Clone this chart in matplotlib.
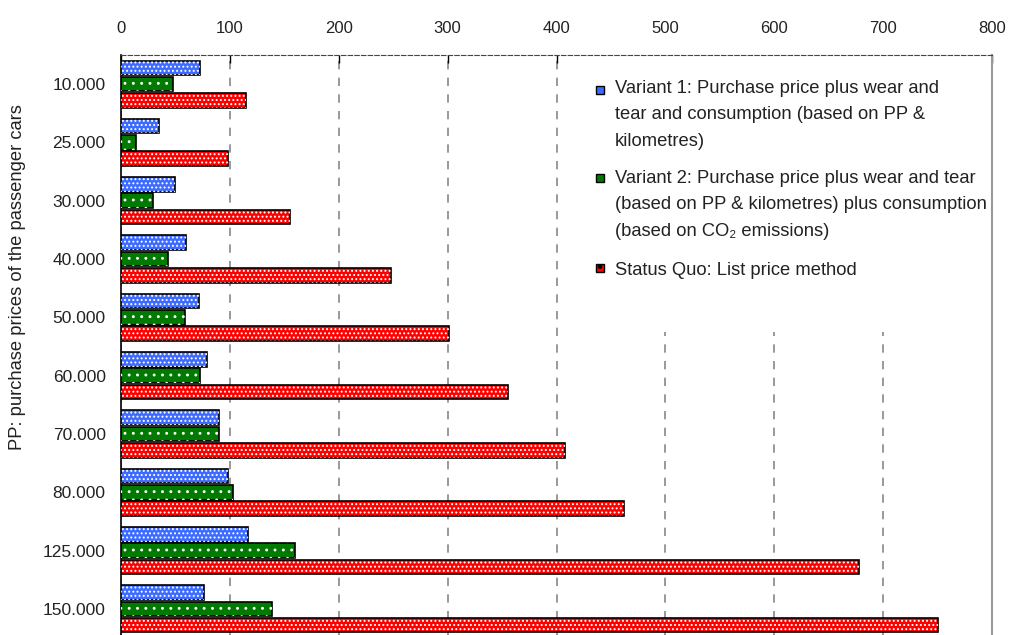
import matplotlib
matplotlib.use("Agg")
import matplotlib.pyplot as plt
import numpy as np
from matplotlib.patches import Rectangle

prices = ["10.000", "25.000", "30.000", "40.000", "50.000",
          "60.000", "70.000", "80.000", "125.000", "150.000"]
variant1 = [73, 35, 50, 60, 72, 79, 90, 98, 117, 76]
variant2 = [48, 14, 29, 43, 59, 73, 90, 103, 160, 139]
status_quo = [115, 98, 155, 248, 301, 355, 408, 462, 678, 750]

labels = ["Variant 1: Purchase price plus wear and\ntear and consumption (based on PP &\nkilometres)",
          "Variant 2: Purchase price plus wear and tear\n(based on PP & kilometres) plus consumption\n(based on CO\u2082 emissions)",
          "Status Quo: List price method"]
colors = ["#3d6bff", "#007a00", "#ff0000"]
hatches = ["....", "..", "...."]

plt.rcParams['font.family'] = ['Liberation Sans', 'DejaVu Sans']
plt.rcParams['hatch.linewidth'] = 0.9

fig = plt.figure(figsize=(10.16, 6.35), dpi=100)
ax = fig.add_axes([121/1016, -3/635, 871/1016, 583/635])

y = np.arange(len(prices))
step = 0.28
h = 0.25
series = [variant1, variant2, status_quo]
for i, vals in enumerate(series):
    pos = y + (i - 1) * step
    ax.barh(pos, vals, height=h, color=colors[i], edgecolor='black', linewidth=1.2, zorder=3)
    ax.barh(pos, vals, height=h, fill=False, edgecolor='white', hatch=hatches[i], linewidth=0, zorder=4)

ax.set_xlim(0, 800)
ax.set_ylim(len(prices) - 0.5, -0.5)
ax.set_xticks(np.arange(0, 801, 100))
ax.set_yticks(y)
ax.set_yticklabels(prices, fontsize=12.5, color='#222222')
ax.xaxis.tick_top()
ax.tick_params(axis='x', direction='in', length=6, width=1, pad=14, labelsize=12, labelcolor='#222222')
ax.tick_params(axis='y', length=0, pad=11)
ax.grid(axis='x', linestyle=(0, (5, 5)), color='#888888', linewidth=1.2, zorder=0)
ax.get_xgridlines()[-1].set_visible(False)
ax.set_axisbelow(True)

ax.spines['bottom'].set_visible(False)
ax.spines['top'].set_linestyle((0, (4, 2)))
ax.spines['top'].set_color('#444444')
ax.spines['right'].set_color('#999999')
ax.spines['right'].set_linewidth(1.5)
ax.spines['left'].set_linewidth(1.2)

# white legend area hiding the grid
ax.add_patch(Rectangle((470, -0.5), 328, 4.75, facecolor='white', edgecolor='none', zorder=1))

# legend, laid out like the original (top of each block in pixels)
tops = [80, 170, 262]
marker_y = [90, 178.5, 267.5]
for i, lab in enumerate(labels):
    fig.text(615/1016, 1 - tops[i]/635, lab, fontsize=13.2, va='top', ha='left',
             linespacing=1.72, color='#222222')
    fig.patches.append(Rectangle((595.5/1016, 1 - (marker_y[i] + 4)/635), 8/1016, 8/635,
                                 transform=fig.transFigure, facecolor=colors[i], edgecolor='black',
                                 linewidth=1, hatch='.', figure=fig))

fig.text(18/1016, 1 - 277/635, "PP: purchase prices of the passenger cars", rotation=90,
         fontsize=13.2, ha='center', va='center', color='#222222')

fig.savefig("out.png", dpi=100, facecolor='white')
